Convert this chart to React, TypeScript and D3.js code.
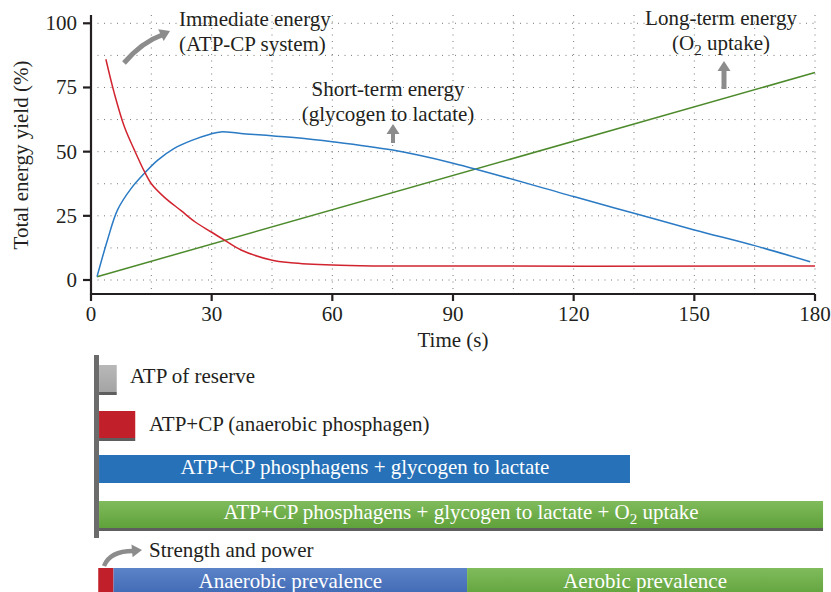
import React from "react";
import * as d3 from "d3";

// curves: [seconds, % of energy yield]
const immediate: [number, number][] = [
  [3.7, 86], [5.8, 72.7], [8.3, 59.7], [10.8, 50.6], [13.3, 42.2], [15, 37.5],
  [18.2, 32.3], [22.4, 27], [26, 22.5], [29.8, 18.8], [33.1, 15.6], [37.3, 11.7],
  [44.8, 7.8], [49.7, 6.7], [60, 5.8], [70, 5.5], [180, 5.5],
];
const shortTerm: [number, number][] = [
  [1.5, 1.3], [4.1, 15.6], [6.6, 27.3], [9.9, 35.5], [13.3, 41.6], [16.6, 46.7],
  [20.7, 51.3], [24.9, 54.3], [29.8, 56.9], [32.3, 57.7], [37.3, 57.1], [49.7, 55.6],
  [60, 53.9], [75, 50.6], [90, 45.5], [120, 32.5], [135, 26], [150, 19.5],
  [165, 13.4], [178.8, 7.1],
];
const longTerm: [number, number][] = [
  [1.5, 1.3], [180, 80.8],
];

const xTicks = [0, 30, 60, 90, 120, 150, 180];
const yTicks = [0, 25, 50, 75, 100];
const xGrid = [15, 30, 45, 60, 75, 90, 105, 120, 135, 150, 165, 180];
const yGrid = [0, 12.5, 25, 37.5, 50, 62.5, 75, 87.5, 100];

// systems bars (start, end in seconds)
const systemNames = [
  "ATP of reserve",
  "ATP+CP (anaerobic phosphagen)",
  "ATP+CP phosphagens + glycogen to lactate",
  "ATP+CP phosphagens + glycogen to lactate + O₂ uptake",
];
const systemSpans: [number, number][] = [
  [2, 6.4], [2, 11], [2, 134], [2, 182],
];
const prevalenceNames = ["", "Anaerobic prevalence", "Aerobic prevalence"];
const prevalenceSpans: [number, number][] = [
  [1.8, 5.6], [5.6, 93.5], [93.5, 182],
];

const FONT = "'Liberation Serif', 'DejaVu Serif', serif";
const INK = "#231f20";
const ARROW = "#8c8c8c";
const FS = 21;

function Sub({ text }: { text: string }) {
  // render "O₂" with a real subscript
  const parts = text.split("O₂");
  return (
    <>
      {parts.map((p, i) => (
        <React.Fragment key={i}>
          {p}
          {i < parts.length - 1 && (
            <>
              O<tspan dy={5} fontSize="0.72em">2</tspan>
              <tspan dy={-5}> </tspan>
            </>
          )}
        </React.Fragment>
      ))}
    </>
  );
}

function Head({ x, y, angle }: { x: number; y: number; angle: number }) {
  return (
    <polygon
      points="0,0 -10,-6.5 -10,6.5"
      fill={ARROW}
      transform={`translate(${x},${y}) rotate(${angle})`}
    />
  );
}

export default function App() {
  const x = d3.scaleLinear().domain([0, 180]).range([91, 815]);
  const y = d3.scaleLinear().domain([0, 100]).range([280, 23.3]);
  const axisBottom = 294;
  const axisTop = 15;

  const line = d3
    .line<[number, number]>()
    .x((d) => x(d[0]))
    .y((d) => y(d[1]))
    .curve(d3.curveCatmullRom.alpha(0.5));

  const barY = [365, 411, 455, 501];
  const barH = 28;

  return (
    <svg
      width={831}
      height={592}
      style={{ position: "absolute", left: 0, top: 0, fontFamily: FONT }}
    >
      <defs>
        <linearGradient id="greenG" x1="0" y1="0" x2="0" y2="1">
          <stop offset="0" stopColor="#80bb5c" />
          <stop offset="1" stopColor="#5fa13a" />
        </linearGradient>
        <linearGradient id="greyG" x1="0" y1="0" x2="0" y2="1">
          <stop offset="0" stopColor="#b8b8b8" />
          <stop offset="1" stopColor="#a4a4a4" />
        </linearGradient>
        <linearGradient id="blueG" x1="0" y1="0" x2="0" y2="1">
          <stop offset="0" stopColor="#5b83c8" />
          <stop offset="1" stopColor="#3e67b3" />
        </linearGradient>
      </defs>

      {/* dotted grid */}
      <g stroke="#777" strokeWidth={1} strokeDasharray="1 5.5">
        {yGrid.map((v) => (
          <line key={"h" + v} x1={x(0)} x2={x(180)} y1={y(v)} y2={y(v)} />
        ))}
        {xGrid.map((v) => (
          <line key={"v" + v} x1={x(v)} x2={x(v)} y1={axisTop} y2={axisBottom} />
        ))}
      </g>

      {/* axes */}
      <g stroke={INK} strokeWidth={2.2} fill="none">
        <line x1={x(0)} x2={x(0)} y1={axisTop} y2={axisBottom + 1} />
        <line x1={x(0) - 1} x2={x(180)} y1={axisBottom} y2={axisBottom} />
        {yTicks.map((v) => (
          <line key={v} x1={x(0) - 8} x2={x(0)} y1={y(v)} y2={y(v)} />
        ))}
        {xTicks.map((v) => (
          <line key={v} x1={x(v)} x2={x(v)} y1={axisBottom} y2={axisBottom + 7} />
        ))}
      </g>
      <g fontSize={FS} fill={INK}>
        {yTicks.map((v) => (
          <text key={v} x={x(0) - 14} y={y(v) + 7} textAnchor="end">
            {v}
          </text>
        ))}
        {xTicks.map((v) => (
          <text key={v} x={x(v)} y={321} textAnchor="middle">
            {v}
          </text>
        ))}
        <text x={453} y={347} textAnchor="middle">
          Time (s)
        </text>
        <text transform="translate(28,155) rotate(-90)" textAnchor="middle">
          Total energy yield (%)
        </text>
      </g>

      {/* curves */}
      <g fill="none" strokeWidth={1.5}>
        <path d={line(longTerm) || ""} stroke="#4d8a2c" />
        <path d={line(shortTerm) || ""} stroke="#2a7ac4" />
        <path d={line(immediate) || ""} stroke="#d1242f" />
      </g>

      {/* annotations */}
      <g fontSize={FS} fill={INK}>
        <text x={179} y={26}>Immediate energy</text>
        <text x={179} y={51}>(ATP-CP system)</text>
        <text x={388} y={96} textAnchor="middle">Short-term energy</text>
        <text x={388} y={121} textAnchor="middle">(glycogen to lactate)</text>
        <text x={721} y={25} textAnchor="middle">Long-term energy</text>
        <text x={721} y={50} textAnchor="middle">
          <Sub text="(O₂ uptake)" />
        </text>
      </g>
      <g>
        <path d="M124,63 Q142,42 162,35" stroke={ARROW} strokeWidth={5} fill="none" />
        <Head x={170} y={31} angle={-25} />
        <line x1={393} x2={393} y1={143} y2={131} stroke={ARROW} strokeWidth={4} />
        <Head x={393} y={124} angle={-90} />
        <line x1={724} x2={724} y1={89} y2={70} stroke={ARROW} strokeWidth={5} />
        <Head x={724} y={61} angle={-90} />
      </g>

      {/* energy systems */}
      <rect x={94} y={355} width={5} height={183} fill="#6b6b6b" />
      {systemSpans.map(([a, b], i) => {
        const fill = ["url(#greyG)", "#c1202a", "#2671b8", "url(#greenG)"][i];
        const shadow = i !== 2;
        return (
          <g key={i}>
            {shadow && (
              <rect x={x(a)} y={barY[i] + barH - 1} width={x(b) - x(a)} height={3} fill="#5e5e5e" />
            )}
            <rect x={x(a)} y={barY[i]} width={x(b) - x(a)} height={barH - (shadow ? 1 : 0)} fill={fill} />
          </g>
        );
      })}
      <g fontSize={FS}>
        <text x={130} y={383} fill={INK}>{systemNames[0]}</text>
        <text x={149} y={431} fill={INK}>{systemNames[1]}</text>
        <text x={365} y={474} fill="#fff" textAnchor="middle">{systemNames[2]}</text>
        <text x={461} y={519} fill="#fff" textAnchor="middle">
          <Sub text={systemNames[3]} />
        </text>
      </g>

      {/* prevalence */}
      <path d="M104,566 Q110,551 133,551" stroke={ARROW} strokeWidth={4.5} fill="none" />
      <Head x={142} y={550} angle={-5} />
      <text x={149} y={557} fontSize={FS} fill={INK}>
        Strength and power
      </text>
      {prevalenceSpans.map(([a, b], i) => {
        const fill = ["#c1202a", "url(#blueG)", "url(#greenG)"][i];
        return (
          <g key={i}>
            <rect x={x(a)} y={568} width={x(b) - x(a)} height={30} fill={fill} />
            {prevalenceNames[i] && (
              <text
                x={(x(a) + x(b)) / 2}
                y={588}
                fontSize={FS}
                fill="#fff"
                textAnchor="middle"
              >
                {prevalenceNames[i]}
              </text>
            )}
          </g>
        );
      })}
    </svg>
  );
}
